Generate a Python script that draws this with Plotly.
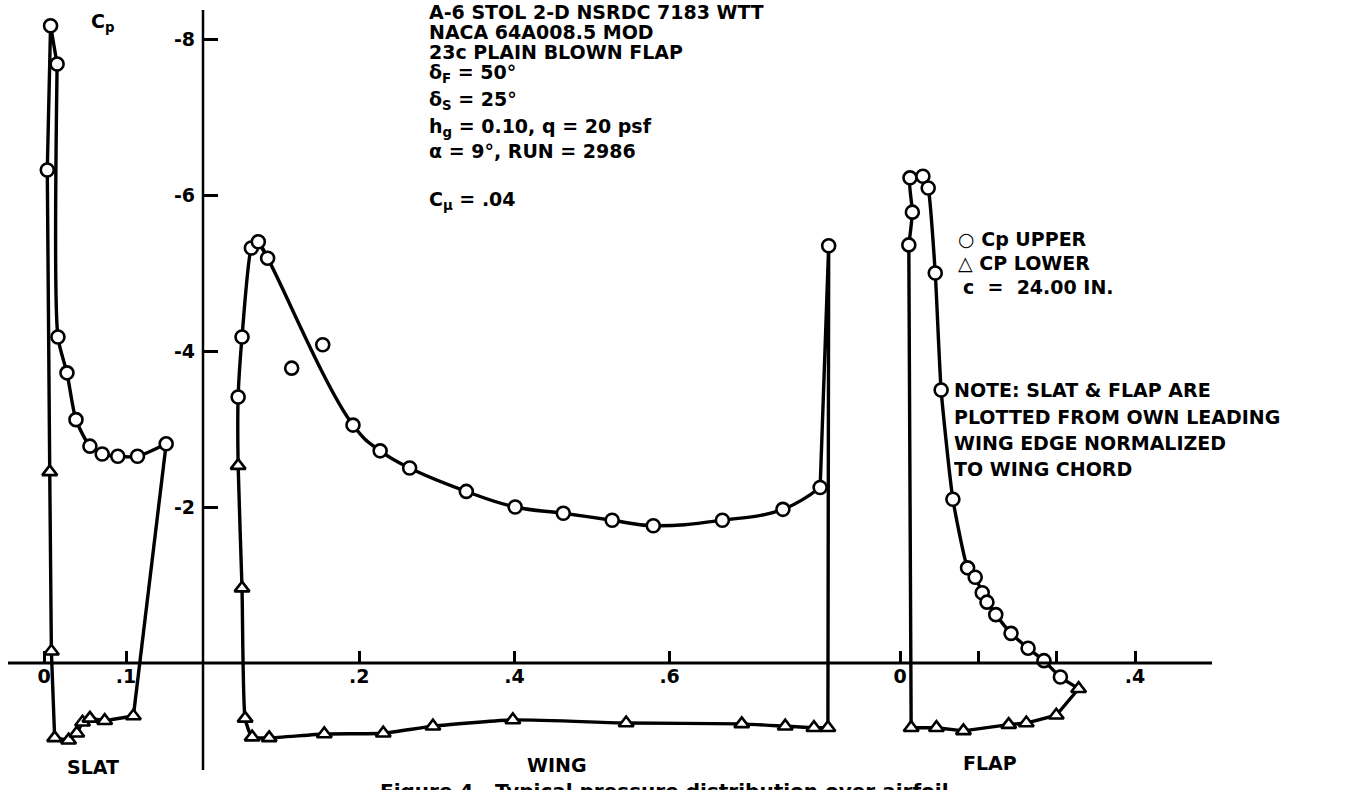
import plotly.graph_objects as go

W, H = 1349, 790
FONT = "DejaVu Sans"

# ---------------- data ----------------
# SLAT, x measured from slat's own leading edge (wing-chord units)
slat_up_x = [0.004, 0.008, 0.016, 0.017, 0.028, 0.039, 0.056, 0.071, 0.090, 0.114, 0.149]
slat_up_cp = [-6.32, -8.17, -7.68, -4.18, -3.72, -3.12, -2.78, -2.68, -2.65, -2.65, -2.81]
slat_lo_x = [0.007, 0.009, 0.013, 0.030, 0.040, 0.047, 0.056, 0.074, 0.109]
slat_lo_cp = [-2.45, -0.15, 0.96, 0.99, 0.90, 0.76, 0.71, 0.74, 0.68]

# WING
wing_le_x = [0.044, 0.049, 0.061, 0.070, 0.082]
wing_le_cp = [-3.41, -4.18, -5.32, -5.40, -5.19]
wing_mid_x = [0.192, 0.227, 0.265, 0.338, 0.401, 0.463, 0.526, 0.579, 0.668, 0.746, 0.794]
wing_mid_cp = [-3.05, -2.72, -2.50, -2.20, -2.00, -1.92, -1.83, -1.76, -1.83, -1.97, -2.25]
wing_te_x = [0.805]
wing_te_cp = [-5.35]
wing_out_x = [0.113, 0.153]
wing_out_cp = [-3.78, -4.08]
wing_lo_x = [0.044, 0.049, 0.053, 0.062, 0.084, 0.155, 0.231, 0.295, 0.398, 0.544,
             0.693, 0.749, 0.786, 0.804]
wing_lo_cp = [-2.53, -0.96, 0.71, 0.95, 0.96, 0.91, 0.90, 0.81, 0.73, 0.77,
              0.78, 0.81, 0.83, 0.83]

# FLAP, x measured from flap's own leading edge
flap_up_x = [0.015, 0.021, 0.017, 0.039, 0.048, 0.060, 0.070, 0.090, 0.115, 0.128,
             0.140, 0.148, 0.163, 0.189, 0.218, 0.245, 0.273]
flap_up_cp = [-5.36, -5.78, -6.22, -6.24, -6.09, -5.00, -3.50, -2.10, -1.22, -1.10,
              -0.90, -0.78, -0.62, -0.38, -0.19, -0.03, 0.18]
flap_lo_x = [0.019, 0.062, 0.108, 0.185, 0.215, 0.266, 0.304]
flap_lo_cp = [0.83, 0.83, 0.87, 0.79, 0.77, 0.67, 0.33]

slat_ticks = [0, 0.1]
slat_ticktext = ["0", ".1"]
wing_ticks = [0.2, 0.4, 0.6]
wing_ticktext = [".2", ".4", ".6"]
flap_ticks = [0, 0.4]
flap_ticktext = ["0", ".4"]
cp_ticks = [-8, -6, -4, -2]
cp_ticktext = ["-8", "-6", "-4", "-2"]

# ---------------- layout geometry (pixels) ----------------
Y0_PX, Y_PER = 663, 78.0          # Cp = 0 line, px per unit Cp
YAX_PX = 203                      # vertical Cp axis


def xr(origin_px, per, d0, d1):
    return [(d0 - origin_px) / per, (d1 - origin_px) / per]


SLAT_D = (0, 200)
WING_D = (200, 880)
FLAP_D = (880, 1206)

fig = go.Figure()

LW = 3.4
LINE = dict(color="black", width=LW)
CIRC = dict(symbol="circle", size=13, color="white", line=dict(color="black", width=2.6))
TRI = dict(symbol="triangle-up", size=13, color="white", line=dict(color="black", width=2.6))


def line(x, y, ax, smooth=None):
    ln = dict(LINE)
    if smooth:
        ln.update(shape="spline", smoothing=smooth)
    fig.add_trace(go.Scatter(x=x, y=y, mode="lines", line=ln, xaxis=ax, yaxis="y",
                             cliponaxis=False, hoverinfo="skip"))


def marks(x, y, ax, m):
    fig.add_trace(go.Scatter(x=x, y=y, mode="markers", marker=m, xaxis=ax, yaxis="y", cliponaxis=False))


# slat: lower TE -> LE, up the leading edge, upper LE -> TE, back to lower TE
line(list(reversed(slat_lo_x)) + slat_up_x[:3], list(reversed(slat_lo_cp)) + slat_up_cp[:3], "x")
line(slat_up_x[2:], slat_up_cp[2:], "x", smooth=0.7)
line([slat_up_x[-1], slat_lo_x[-1]], [slat_up_cp[-1], slat_lo_cp[-1]], "x")
marks(slat_lo_x, slat_lo_cp, "x", TRI)
marks(slat_up_x, slat_up_cp, "x", CIRC)

# wing
line(list(reversed(wing_lo_x)) + wing_le_x, list(reversed(wing_lo_cp)) + wing_le_cp, "x2", smooth=0.5)
line(wing_le_x[-2:] + wing_mid_x, wing_le_cp[-2:] + wing_mid_cp, "x2", smooth=1.2)
line(wing_mid_x[-1:] + wing_te_x + [wing_lo_x[-1]], wing_mid_cp[-1:] + wing_te_cp + [wing_lo_cp[-1]], "x2")
marks(wing_lo_x, wing_lo_cp, "x2", TRI)
marks(wing_le_x + wing_mid_x + wing_te_x + wing_out_x, wing_le_cp + wing_mid_cp + wing_te_cp + wing_out_cp,
      "x2", CIRC)

# flap
line(flap_up_x + [flap_lo_x[-1]], flap_up_cp + [flap_lo_cp[-1]], "x3", smooth=0.5)
line(list(reversed(flap_lo_x)) + [flap_up_x[0]], list(reversed(flap_lo_cp)) + [flap_up_cp[0]], "x3")
marks(flap_lo_x, flap_lo_cp, "x3", TRI)
marks(flap_up_x, flap_up_cp, "x3", CIRC)

tickfont = dict(family=FONT, size=19, color="black", weight="bold")
xcommon = dict(anchor="free", position=(H - Y0_PX) / H, showgrid=False, zeroline=False, showline=False,
               ticks="inside", ticklen=12, tickwidth=2.5, tickcolor="black", tickfont=tickfont,
               tickmode="array", fixedrange=True)

fig.update_layout(
    width=W, height=H, margin=dict(l=0, r=0, t=0, b=0),
    paper_bgcolor="white", plot_bgcolor="white", showlegend=False,
    xaxis=dict(xcommon, domain=[SLAT_D[0] / W, SLAT_D[1] / W], range=xr(44, 820, *SLAT_D),
               tickvals=slat_ticks, ticktext=slat_ticktext),
    xaxis2=dict(xcommon, domain=[WING_D[0] / W, WING_D[1] / W], range=xr(204, 776, *WING_D),
                tickvals=wing_ticks, ticktext=wing_ticktext),
    xaxis3=dict(xcommon, domain=[FLAP_D[0] / W, FLAP_D[1] / W], range=xr(900, 587.5, *FLAP_D),
                tickvals=flap_ticks, ticktext=flap_ticktext,
                minor=dict(ticks="inside", ticklen=12, tickwidth=2.5, tickcolor="black", tick0=0, dtick=0.4 / 3)),
    yaxis=dict(domain=[0, 1], range=[(H - Y0_PX) / Y_PER, -Y0_PX / Y_PER], anchor="free",
               position=YAX_PX / W, side="left", showgrid=False, zeroline=False, showline=False,
               ticks="inside", ticklen=14, tickwidth=2.5, tickcolor="black", tickfont=tickfont,
               tickmode="array", tickvals=cp_ticks, ticktext=cp_ticktext, ticklabelstandoff=8,
               fixedrange=True),
)

# axis lines
fig.add_shape(type="line", xref="paper", yref="paper", x0=YAX_PX / W, x1=YAX_PX / W,
              y0=1 - 770 / H, y1=1 - 10 / H, line=dict(color="black", width=2.5))
fig.add_shape(type="line", xref="paper", yref="y", x0=8 / W, x1=1212 / W, y0=0, y1=0,
              line=dict(color="black", width=3))


def txt(x, y, s, size=19, anchor="left", h=None):
    fig.add_annotation(x=x / W, y=1 - y / H, xref="paper", yref="paper", text=s, showarrow=False,
                       xanchor=anchor, yanchor="middle", align="left", height=h, borderpad=0,
                       font=dict(family=FONT, size=size, color="black", weight="bold"))


txt(90, 22, "C<sub>p</sub>")
info = [
    (12, "A-6 STOL 2-D NSRDC 7183 WTT", 19),
    (32, "NACA 64A008.5 MOD", 19),
    (51, "23c PLAIN BLOWN FLAP", 19),
    (73, "δ<sub>F</sub> = 50°", None),
    (100, "δ<sub>S</sub> = 25°", None),
    (128, "h<sub>g</sub> = 0.10, q = 20 psf", None),
    (151, "α = 9°, RUN = 2986", None),
    (200, "C<sub>μ</sub> = .04", None),
]
for yy, s, hh in info:
    txt(428, yy, s, h=hh)

txt(957, 239, "○ Cp UPPER", h=22)
txt(957, 263, "△ CP LOWER", h=22)
txt(962, 287, "c  =  24.00 IN.", h=22)
note = ["NOTE: SLAT & FLAP ARE", "PLOTTED FROM OWN LEADING", "WING EDGE NORMALIZED", "TO WING CHORD"]
for i, s in enumerate(note):
    txt(953, 390 + i * 26.5, s, h=24)

txt(93, 767, "SLAT", anchor="center")
txt(557, 765, "WING", anchor="center")
txt(990, 763, "FLAP", anchor="center")
fig.add_annotation(x=668 / W, y=1 - 778 / H, xref="paper", yref="paper",
                   text="Figure 4.  Typical pressure distribution over airfoil.", showarrow=False,
                   xanchor="center", yanchor="top", borderpad=0,
                   font=dict(family=FONT, size=20, color="black", weight="bold"))

fig.write_html("out.html")
